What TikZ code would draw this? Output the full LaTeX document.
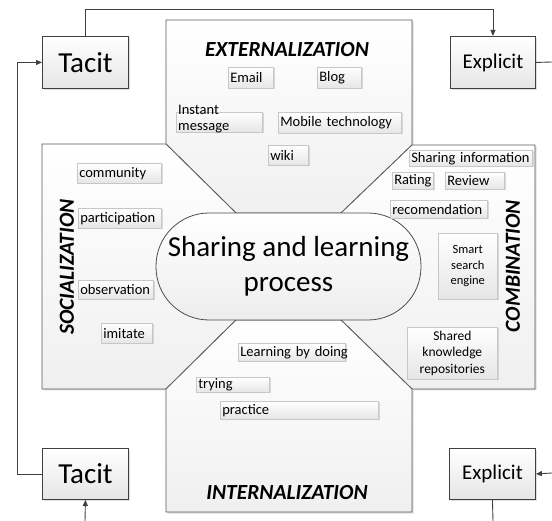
\documentclass[tikz,border=0pt]{standalone}
\usepackage{fontspec}
\setmainfont{Carlito}
\usetikzlibrary{arrows.meta,shadows}
\begin{document}
\begin{tikzpicture}[x=1pt,y=-1pt,
  region/.style={draw=black!65, line width=0.8pt, top color=white, bottom color=black!6},
  regshadow/.style={fill=black!14},
  bigbox/.style={draw=black!75, line width=0.9pt, top color=white, bottom color=black!10,
     drop shadow={shadow xshift=1.5pt, shadow yshift=-1.5pt, fill=black!25},
     minimum height=52pt, inner sep=0pt, anchor=north west},
  sb/.style={draw=black!22, line width=0.6pt, top color=white, bottom color=black!10,
     drop shadow={shadow xshift=1.2pt, shadow yshift=-1.2pt, fill=black!28},
     inner xsep=2pt, inner ysep=0pt, anchor=north west, align=left,
     font=\fontsize{14.5}{17}\selectfont},
  title/.style={font=\fontsize{21.5}{25}\selectfont\bfseries\itshape, inner sep=0pt},
  conn/.style={draw=black!75, line width=0.9pt},
  tip/.style={-{Triangle[length=6pt,width=5pt]}}
]
\useasboundingbox (0,0) rectangle (552,521);
% shadows of the four regions
\begin{scope}[shift={(1.5,1.5)}]
\fill[regshadow] (166,20) -- (412,20) -- (412,145) -- (341,213) -- (236,213) -- (166,144) -- cycle;
\fill[regshadow] (42,144) -- (166,144) -- (236,213) -- (236,320) -- (166,389) -- (42,389) -- cycle;
\fill[regshadow] (412,145) -- (535,145) -- (535,389) -- (412,389) -- (341,320) -- (341,213) -- cycle;
\fill[regshadow] (166,389) -- (236,320) -- (341,320) -- (412,389) -- (412,512) -- (166,512) -- cycle;
\end{scope}
% regions
\path[region] (166,20) -- (412,20) -- (412,145) -- (341,213) -- (236,213) -- (166,144) -- cycle;
\path[region] (42,144) -- (166,144) -- (236,213) -- (236,320) -- (166,389) -- (42,389) -- cycle;
\path[region] (412,145) -- (535,145) -- (535,389) -- (412,389) -- (341,320) -- (341,213) -- cycle;
\path[region] (166,389) -- (236,320) -- (341,320) -- (412,389) -- (412,512) -- (166,512) -- cycle;

% central process
\node[draw=black!70, line width=0.8pt, top color=white, bottom color=black!7,
      rounded corners=53pt, minimum width=265pt, minimum height=107pt, inner sep=0pt,
      align=center, font=\fontsize{29}{35}\selectfont] (proc) at (288.5,266.5)
      {Sharing and learning\\process};

% titles
\node[title] (ext) at (287,50) {EXTERNALIZATION};
\node[title] (int) at (287,493) {INTERNALIZATION};
\node[title, rotate=90] (soc) at (67,267) {SOCIALIZATION};
\node[title, rotate=90] (comb) at (513,266) {COMBINATION};

% externalization items
\node[sb, text width=41pt, minimum height=21pt] (email) at (228,67) {Email};
\node[sb, text width=40pt, minimum height=21pt] (blog) at (317,67) {Blog};
\node[sb, text width=82pt, minimum height=20pt] (instbox) at (176,112) {};
\node[font=\fontsize{14.5}{16.5}\selectfont, align=left, inner sep=0pt, anchor=north west] (inst) at (178,105) {Instant\\message};
\node[sb, text width=119pt, minimum height=21pt] (mobile) at (278,112) {\mbox{Mobile technology}};
\node[sb, text width=36pt, minimum height=20pt] (wiki) at (268,145) {wiki};

% socialization items
\node[sb, text width=80pt, minimum height=20pt] (community) at (77,163) {community};
\node[sb, text width=79pt, minimum height=20pt] (partic) at (78,208) {participation};
\node[sb, text width=71pt, minimum height=19pt] (observ) at (78,280) {observation};
\node[sb, text width=47pt, minimum height=20pt] (imitate) at (101,323) {imitate};

% combination items
\node[sb, text width=119pt, minimum height=16pt] (sharinfo) at (409,150) {\mbox{Sharing information}};
\node[sb, text width=37pt, minimum height=17pt] (rating) at (392,172) {Rating};
\node[sb, text width=55pt, minimum height=17pt] (review) at (445,172) {Review};
\node[sb, text width=93pt, minimum height=18pt] (recom) at (390,200) {recomendation};
\node[sb, text width=55pt, minimum height=66pt, align=center, font=\fontsize{12.5}{15.5}\selectfont] (smart) at (438,233) {Smart\\search\\engine};
\node[sb, text width=86pt, minimum height=52pt, align=center, font=\fontsize{13.5}{16.5}\selectfont] (shared) at (407,327) {Shared\\knowledge\\repositories};

% internalization items
\node[sb, text width=103pt, minimum height=18pt] (lbd) at (238,343) {\mbox{Learning by doing}};
\node[sb, text width=69pt, minimum height=15pt] (trying) at (196,377) {trying};
\node[sb, text width=154pt, minimum height=18pt] (practice) at (220,401) {practice};

% tacit / explicit boxes
\node[bigbox, minimum width=86pt, font=\fontsize{29}{34}\selectfont] (tacitA) at (42,36) {Tacit};
\node[bigbox, minimum width=85pt, font=\fontsize{21}{25}\selectfont] (explA) at (450,36) {Explicit};
\node[bigbox, minimum width=86pt, minimum height=51pt, font=\fontsize{29}{34}\selectfont] (tacitB) at (42,448) {Tacit};
\node[bigbox, minimum width=86pt, minimum height=51pt, font=\fontsize{21}{25}\selectfont] (explB) at (449,448) {Explicit};

% free ends at the picture's edges
\coordinate (eA) at (552,62);
\coordinate (eB) at (552,473);
\coordinate (eC) at (493,521);
\coordinate (eD) at (85,521);

% connectors
\draw[conn, tip] (tacitA.north) -- ++(0,-27) -| (explA.north);
\draw[conn, tip] (tacitB.west) -- ++(-25,0) |- (tacitA.west);
\draw[conn] (explA.east) -- (eA);
\draw[conn, tip] (eB) -- (explB.east);
\draw[conn] (explB.south) -- (eC);
\draw[conn, tip] (eD) -- (tacitB.south);
\end{tikzpicture}
\end{document}
